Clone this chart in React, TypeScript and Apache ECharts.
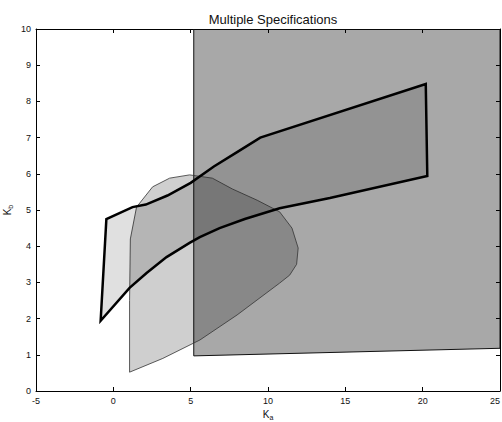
import React, { useEffect, useRef } from "react";
import * as echarts from "echarts";

// Axis ranges / ticks
const xRange = [-5, 25];
const yRange = [0, 10];
const xStep = 5;
const yStep = 1;

const titleText = "Multiple Specifications";

// Region 1: large specification region (right block)
const blockKa = [5.2, 25, 25, 5.2];
const blockKb = [0.97, 1.18, 10, 10];

// Region 2: D-shaped specification region
const dKa = [1.05, 1.05, 1.1, 1.5, 2.54, 3.64, 4.93, 6.4, 7.7, 9.3, 10.75, 11.55, 11.95, 11.85, 11.4, 10.75, 8.0, 5.6, 3.2];
const dKb = [0.52, 2.5, 4.2, 5.08, 5.64, 5.88, 5.97, 5.88, 5.58, 5.27, 4.95, 4.5, 3.95, 3.5, 3.2, 2.98, 2.1, 1.41, 0.9];

// Region 3: thick outlined specification polygon
const pKa = [-0.82, -0.45, 1.24, 2.1, 3.5, 5.0, 6.5, 8.0, 9.5, 20.2, 20.3, 14.0, 10.75, 8.5, 6.87, 5.59, 4.93, 3.44, 2.15, 1.05];
const pKb = [1.94, 4.75, 5.08, 5.15, 5.4, 5.75, 6.2, 6.6, 7.0, 8.48, 5.94, 5.33, 5.05, 4.75, 4.5, 4.25, 4.09, 3.7, 3.26, 2.85];

const zip = (a: number[], b: number[]) => a.map((v, i) => [v, b[i]]);

const FONT = "'Liberation Sans', Arial, sans-serif";

function polygonSeries(pts: number[][], fill: string, stroke: string, lw: number, z: number) {
  return {
    type: "custom",
    coordinateSystem: "cartesian2d",
    xAxisIndex: 0,
    yAxisIndex: 0,
    clip: true,
    silent: true,
    z,
    encode: { x: 0, y: 1 },
    data: pts,
    renderItem: (params: any, api: any) => {
      if (params.dataIndex !== 0) return null;
      const points = pts.map((p) => api.coord(p));
      return {
        type: "polygon",
        shape: { points },
        style: { fill, stroke, lineWidth: lw, lineJoin: "miter" },
      };
    },
  };
}

export default function App() {
  const ref = useRef<HTMLDivElement>(null);

  useEffect(() => {
    if (!ref.current) return;
    const chart = echarts.init(ref.current, undefined, { renderer: "svg" });

    const axisCommon = {
      axisLine: { show: true, onZero: false, lineStyle: { color: "#000", width: 1 } },
      axisTick: { show: true, inside: true, length: 4, lineStyle: { color: "#000" } },
      splitLine: { show: false },
    };

    const nameRich = {
      k: { fontFamily: FONT, fontSize: 10, color: "#111", lineHeight: 13 },
      s: { fontFamily: FONT, fontSize: 7, color: "#111", lineHeight: 13, verticalAlign: "bottom" },
    };

    chart.setOption({
      animation: false,
      backgroundColor: "#fff",
      title: {
        text: titleText,
        left: 268,
        top: 8,
        textAlign: "center",
        textStyle: { fontFamily: FONT, fontSize: 13, fontWeight: "normal", color: "#111" },
      },
      grid: { left: 36, right: 2, top: 29, bottom: 31, containLabel: false, outerBoundsMode: "none" },
      xAxis: [
        {
          type: "value",
          position: "bottom",
          min: xRange[0],
          max: xRange[1],
          interval: xStep,
          ...axisCommon,
          axisLabel: { fontFamily: FONT, fontSize: 9, color: "#111", margin: 5, alignMaxLabel: "right" },
          name: "{k|K}{s|a}",
          nameLocation: "middle",
          nameGap: 15,
          nameTextStyle: { rich: nameRich },
        },
        {
          type: "value",
          position: "top",
          min: xRange[0],
          max: xRange[1],
          interval: xStep,
          ...axisCommon,
          axisLabel: { show: false },
        },
      ],
      yAxis: [
        {
          type: "value",
          position: "left",
          min: yRange[0],
          max: yRange[1],
          interval: yStep,
          ...axisCommon,
          axisLabel: { fontFamily: FONT, fontSize: 9, color: "#111", margin: 5 },
          name: "{k|K}{s|b}",
          nameLocation: "middle",
          nameGap: 22,
          nameMoveOverlap: false,
          nameRotate: 90,
          nameTextStyle: { rich: nameRich },
        },
        {
          type: "value",
          position: "right",
          min: yRange[0],
          max: yRange[1],
          interval: yStep,
          ...axisCommon,
          axisLabel: { show: false },
        },
      ],
      series: [
        polygonSeries(zip(blockKa, blockKb), "rgba(0,0,0,0.34)", "#111", 1, 1),
        polygonSeries(zip(dKa, dKb), "rgba(0,0,0,0.19)", "#333", 0.8, 2),
        polygonSeries(zip(pKa, pKb), "rgba(0,0,0,0.12)", "#000", 2.5, 3),
      ],
    });

    return () => chart.dispose();
  }, []);

  return (
    <div
      ref={ref}
      style={{ position: "fixed", left: 0, top: 0, width: 502, height: 422, background: "#fff" }}
    />
  );
}
